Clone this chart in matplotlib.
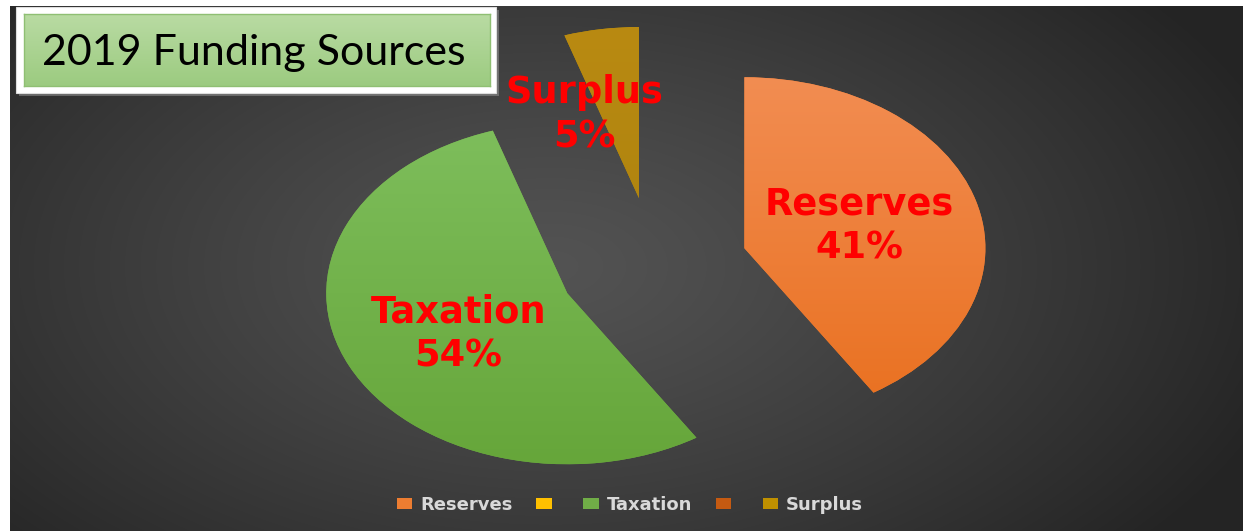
import numpy as np
import matplotlib
matplotlib.use("Agg")
import matplotlib.pyplot as plt
from matplotlib.patches import Rectangle
from matplotlib.colors import to_rgb

# ---- data ----
categories = ["Reserves", "", "Taxation", "", "Surplus"]
values = [41, 0, 54, 0, 5]
pct_labels = ["41%", "", "54%", "", "5%"]
colors = ["#ED7D31", "#FFC000", "#70AD47", "#C55A11", "#BF9000"]
title = "2019 Funding Sources"

# ---- styling / positions ----
explode = [0.477, 0, 0.306, 0, 0.432]
nudge_x = [0, 0, 0, 0, 0.088]
grad_top = ["#F28D52", None, "#7EBE5C", None, "#B98A12"]
grad_bot = ["#E9701F", None, "#66A63A", None, "#A9800C"]
label_dist = [0.5, 0, 0.5, 0, 0.56]
label_rot = [2, 0, 0, 0, 15.0]
label_dy = -0.025

W, H = 1248, 531
fig = plt.figure(figsize=(W / 100, H / 100), dpi=100)
fig.patch.set_facecolor("white")

# background radial gradient
bg = fig.add_axes([10 / W, 0, (1243 - 10) / W, 525 / H])
yy, xx = np.mgrid[0:525, 0:1233]
d = np.sqrt(((xx - 540) / 760.0) ** 2 + ((yy - 260) / 430.0) ** 2)
v = 0.325 - 0.18 * np.clip(d, 0, 1) ** 1.2
bg.imshow(np.dstack([v, v, v]), aspect="auto", interpolation="bilinear")
bg.axis("off")

# pie
ax = fig.add_axes([0, 0, 1, 1])
ax.patch.set_alpha(0)
wedges, _ = ax.pie(values, colors=colors, startangle=90, counterclock=False,
                   explode=explode, radius=1, wedgeprops=dict(linewidth=0))
for i, w in enumerate(wedges):
    if nudge_x[i]:
        cx, cy = w.center
        w.set_center((cx + nudge_x[i], cy))

for i, w in enumerate(wedges):
    if values[i] == 0:
        continue
    cx, cy = w.center
    r = w.r
    c1 = np.array(to_rgb(grad_top[i]))
    c2 = np.array(to_rgb(grad_bot[i]))
    t = np.linspace(0, 1, 200)[:, None]
    img = (c1 * (1 - t) + c2 * t)[:, None, :].repeat(2, axis=1)
    im = ax.imshow(img, extent=[cx - r, cx + r, cy - r, cy + r], aspect="auto",
                   origin="upper", zorder=w.get_zorder() + 0.1, interpolation="bilinear")
    im.set_clip_path(w)
    mid = np.deg2rad((w.theta1 + w.theta2) / 2 + label_rot[i])
    tx = cx + label_dist[i] * np.cos(mid)
    ty = cy + label_dist[i] * np.sin(mid) + label_dy
    ax.text(tx, ty, f"{categories[i]}\n{pct_labels[i]}", ha="center", va="center",
            color="#FF0000", fontsize=26.5, fontweight="bold", family="DejaVu Sans",
            linespacing=1.25, zorder=10)

ax.set_aspect("auto")
ax.set_xlim(-634 / 241, (W - 634) / 241)
ax.set_ylim(-(H - 271) / 171, 271 / 171)
ax.axis("off")

# title box
fig.add_artist(Rectangle((19 / W, 1 - 96 / H), 480 / W, 86 / H, transform=fig.transFigure,
                         facecolor="#9a9a9a", edgecolor="none", alpha=0.5, zorder=5))
fig.add_artist(Rectangle((16 / W, 1 - 93 / H), 480 / W, 86 / H, transform=fig.transFigure,
                         facecolor="white", edgecolor="#dddddd", linewidth=0.8, zorder=6))
tax = fig.add_axes([24 / W, 1 - 86 / H, 466 / W, 72 / H], zorder=7)
t = np.linspace(0, 1, 100)[:, None]
g1 = np.array(to_rgb("#B9DBA3"))
g2 = np.array(to_rgb("#9CCB80"))
gimg = (g1 * (1 - t) + g2 * t)[:, None, :].repeat(2, axis=1)
tax.imshow(gimg, aspect="auto", interpolation="bilinear")
tax.set_xticks([])
tax.set_yticks([])
for s in tax.spines.values():
    s.set_color("#8fbf73")
    s.set_linewidth(1.0)
tax.text(0.492, 0.46, title, transform=tax.transAxes, ha="center", va="center",
         fontsize=31, family="Lato", color="black")

# legend
fig.legend(wedges, categories, ncol=5, loc="center",
           bbox_to_anchor=(630 / W, 1 - 505 / H), frameon=False,
           prop=dict(weight="bold", size=13, family="DejaVu Sans"), labelcolor="#d9d9d9",
           handlelength=0.85, handleheight=0.55, handletextpad=0.45, columnspacing=1.3)

fig.savefig("out.png", dpi=100, facecolor="white")
